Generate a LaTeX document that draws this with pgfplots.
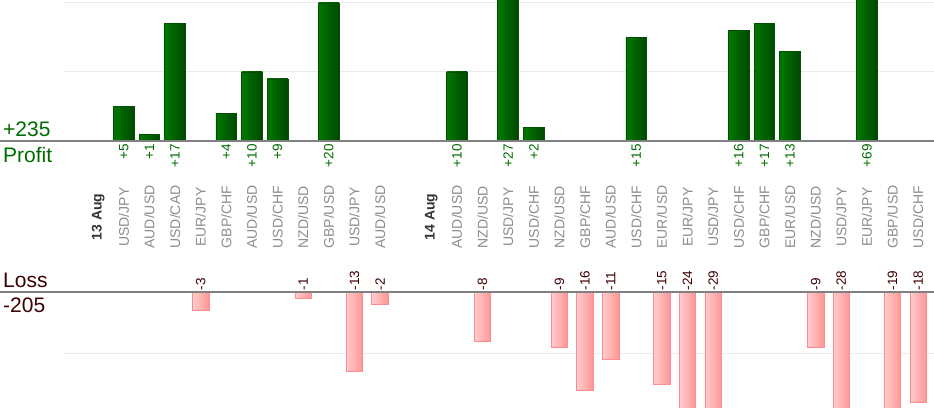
\documentclass[border=0pt]{standalone}
\usepackage{fontspec}
\setmainfont{Liberation Sans}
\usepackage{pgfplots}
\usepackage{pgfplotstable}
\pgfplotsset{compat=1.18}
\definecolor{pgreenL}{HTML}{007800}
\definecolor{pgreenR}{HTML}{004800}
\definecolor{pgreenB}{HTML}{005000}
\definecolor{plossL}{HTML}{FFCCCC}
\definecolor{plossR}{HTML}{FF9696}
\definecolor{plossB}{HTML}{FF8C8C}
\definecolor{txtgreen}{HTML}{006B00}
\definecolor{txtloss}{HTML}{3C0000}
\definecolor{catgray}{HTML}{8C8C8C}
\definecolor{dategray}{HTML}{333333}
\definecolor{gridc}{HTML}{EBEBEB}
\definecolor{zeroc}{HTML}{808080}

\pgfplotstableread{
k v
1 5
2 1
3 17
5 4
6 10
7 9
9 20
14 10
16 27
17 2
21 15
25 16
26 17
27 13
30 69
}\profit

\pgfplotstableread{
k v
4 -3
8 -1
10 -13
11 -2
15 -8
18 -9
19 -16
20 -11
22 -15
23 -24
24 -29
28 -9
29 -28
31 -19
32 -18
}\loss

\pgfplotsset{
  pbar/.style={ybar, bar width=20.7pt, bar shift=0pt, draw=pgreenB, line width=0.7pt, left color=pgreenL, right color=pgreenR},
  lbar/.style={ybar, bar width=16.5pt, bar shift=0pt, draw=plossB, line width=0.7pt, left color=plossL, right color=plossR},
}

\begin{document}
\begin{tikzpicture}[x=1pt,y=1pt]
\path[use as bounding box] (0,0) rectangle (934,-420);

% Profit panel
\begin{axis}[
  at={(63pt,-141pt)}, anchor=south west,
  scale only axis, width=871pt, height=141pt,
  xmin=-1.374, xmax=32.62, ymin=0, ymax=20.43,
  axis line style={draw=none},
  ytick={10,20}, yticklabels={},
  ymajorgrids, grid style={gridc, line width=1pt},
  major tick length=0pt,
  xtick={0,...,32},
  xticklabels={{\textbf{\color{dategray}13 Aug}},USD/JPY,AUD/USD,USD/CAD,EUR/JPY,GBP/CHF,AUD/USD,USD/CHF,NZD/USD,GBP/USD,USD/JPY,AUD/USD,{},{\textbf{\color{dategray}14 Aug}},AUD/USD,NZD/USD,USD/JPY,USD/CHF,NZD/USD,GBP/CHF,AUD/USD,USD/CHF,EUR/USD,EUR/JPY,USD/JPY,USD/CHF,GBP/CHF,EUR/USD,NZD/USD,USD/JPY,EUR/JPY,GBP/USD,USD/CHF},
  xticklabel style={yshift=-76pt, rotate=90, anchor=center, font=\fontsize{14}{14}\selectfont, text=catgray, inner sep=0pt},
]
\addplot[pbar] coordinates {(1,5)};
\addplot[pbar] coordinates {(2,1)};
\addplot[pbar] coordinates {(3,17)};
\addplot[pbar] coordinates {(5,4)};
\addplot[pbar] coordinates {(6,10)};
\addplot[pbar] coordinates {(7,9)};
\addplot[pbar] coordinates {(9,20)};
\addplot[pbar] coordinates {(14,10)};
\addplot[pbar] coordinates {(16,27)};
\addplot[pbar] coordinates {(17,2)};
\addplot[pbar] coordinates {(21,15)};
\addplot[pbar] coordinates {(25,16)};
\addplot[pbar] coordinates {(26,17)};
\addplot[pbar] coordinates {(27,13)};
\addplot[pbar] coordinates {(30,69)};
\addplot[draw=none, mark=none, nodes near coords={+\pgfplotspointmeta}, point meta=explicit symbolic,
  every node near coord/.append style={rotate=90, anchor=east, font=\fontsize{13.5}{13.5}\selectfont, text=txtgreen, inner sep=3pt}]
  table[x=k, y expr=0, meta=v]{\profit};
\end{axis}

% Loss panel
\begin{axis}[
  at={(63pt,-292pt)}, anchor=north west,
  scale only axis, width=871pt, height=115pt,
  xmin=-1.374, xmax=32.62, ymin=-18.75, ymax=0,
  axis line style={draw=none},
  ytick={-10}, yticklabels={},
  ymajorgrids, grid style={gridc, line width=1pt},
  major tick length=0pt,
  xtick=\empty,
]
\addplot[lbar] coordinates {(4,-3)};
\addplot[lbar] coordinates {(8,-1)};
\addplot[lbar] coordinates {(10,-13)};
\addplot[lbar] coordinates {(11,-2)};
\addplot[lbar] coordinates {(15,-8)};
\addplot[lbar] coordinates {(18,-9)};
\addplot[lbar] coordinates {(19,-16)};
\addplot[lbar] coordinates {(20,-11)};
\addplot[lbar] coordinates {(22,-15)};
\addplot[lbar] coordinates {(23,-24)};
\addplot[lbar] coordinates {(24,-29)};
\addplot[lbar] coordinates {(28,-9)};
\addplot[lbar] coordinates {(29,-28)};
\addplot[lbar] coordinates {(31,-19)};
\addplot[lbar] coordinates {(32,-18)};
\addplot[draw=none, mark=none, nodes near coords={\pgfplotspointmeta}, point meta=explicit symbolic,
  every node near coord/.append style={rotate=90, anchor=west, font=\fontsize{13.5}{13.5}\selectfont, text=txtloss, inner sep=1.5pt}]
  table[x=k, y expr=0, meta=v]{\loss};
\end{axis}

\draw[zeroc, line width=1.3pt] (0,-141) -- (934,-141);
\draw[zeroc, line width=1.3pt] (0,-292) -- (934,-292);

\node[anchor=base west, inner sep=0pt, text=txtgreen, font=\fontsize{21}{21}\selectfont] at (3,-136.5) {+235};
\node[anchor=base west, inner sep=0pt, text=txtgreen, font=\fontsize{21}{21}\selectfont] at (3,-162.5) {Profit};
\node[anchor=base west, inner sep=0pt, text=txtloss, font=\fontsize{21}{21}\selectfont] at (3,-287) {Loss};
\node[anchor=base west, inner sep=0pt, text=txtloss, font=\fontsize{21}{21}\selectfont] at (3,-312) {-205};
\end{tikzpicture}
\end{document}
